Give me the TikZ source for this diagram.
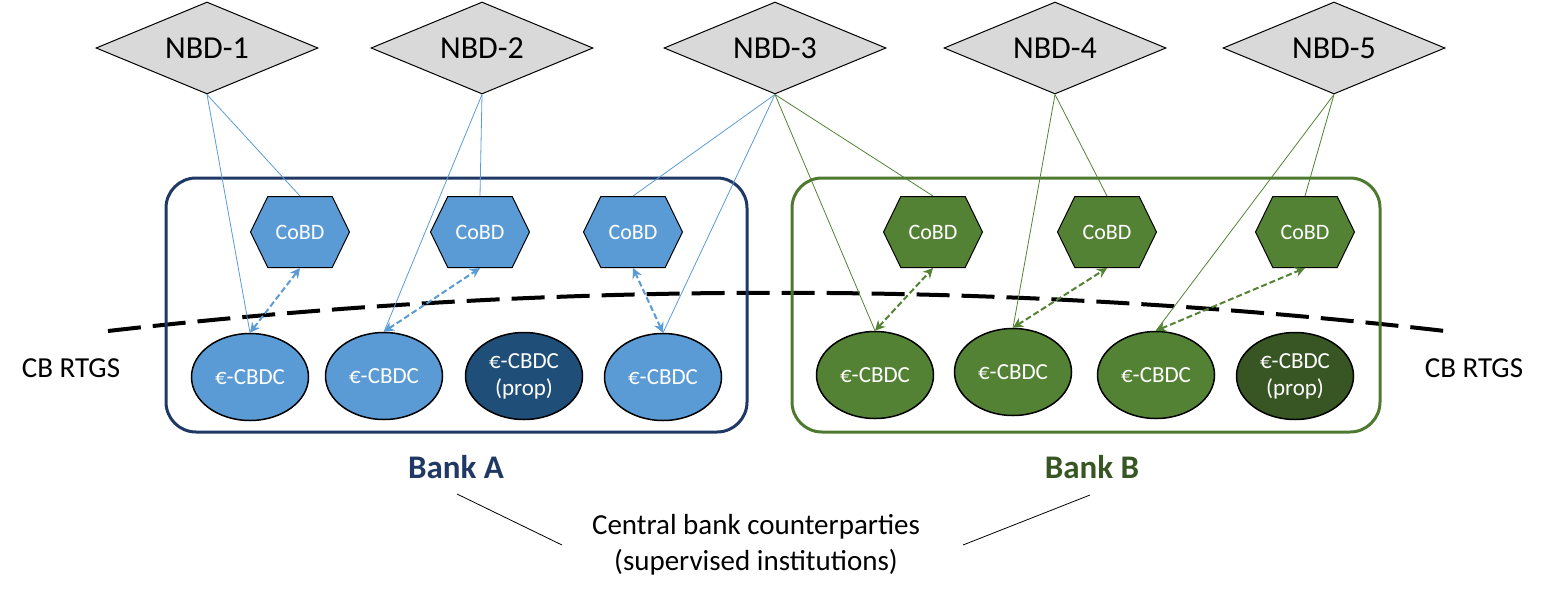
\documentclass[tikz,border=0pt]{standalone}
\usepackage{fontspec}
\setmainfont{Carlito}
\usetikzlibrary{shapes.geometric,shapes.symbols,arrows.meta}
\definecolor{bfill}{HTML}{5B9BD5}
\definecolor{bdark}{HTML}{1F4E79}
\definecolor{bline}{HTML}{203864}
\definecolor{gfill}{HTML}{548235}
\definecolor{gdark}{HTML}{375623}
\definecolor{gline}{HTML}{4E7A30}
\definecolor{nbdgray}{HTML}{D9D9D9}
\tikzset{
  nbd/.style={diamond, aspect=2.4, minimum width=222, minimum height=92, inner sep=0, draw=black, line width=1, fill=nbdgray, font=\fontsize{32}{36}\selectfont},
  hexbox/.style={signal, signal to=east and west, signal pointer angle=128, minimum width=99, minimum height=71, inner sep=0, draw=black, line width=1, text=white, font=\fontsize{22}{26}\selectfont},
  cbdc/.style={ellipse, minimum width=117, minimum height=87, inner sep=0, draw=black, line width=1.5, text=white, align=center, font=\fontsize{23}{27}\selectfont},
  bankbox/.style={rectangle, rounded corners=30, line width=3, minimum width=581, minimum height=254},
  thinb/.style={bfill, line width=0.8},
  thing/.style={gfill, line width=0.8},
  dblarrow/.style={line width=2, dash pattern=on 6 off 3, {Stealth[length=10,width=10]}-{Stealth[length=10,width=10]}},
  banklabel/.style={font=\fontsize{33}{38}\selectfont\bfseries},
  plainlabel/.style={font=\fontsize{29}{36}\selectfont, align=center}
}
\begin{document}
\begin{tikzpicture}[x=1pt,y=-1pt]
\useasboundingbox (0,0) rectangle (1552,600);
% dashed boundary
\coordinate (dl) at (108,331);
\coordinate (dr) at (1445,331);
\draw[line width=4, dash pattern=on 33 off 12] (dl) .. controls (553,280) and (1000,280) .. (dr);
% bank boxes
\node[bankbox, draw=bline] (boxA) at (456.5,305) {};
\node[bankbox, draw=gline, minimum width=588] (boxB) at (1086,305) {};
% NBDs
\node[nbd] (n1) at (207,48) {NBD-1};
\node[nbd] (n2) at (482,48) {NBD-2};
\node[nbd] (n3) at (775,48) {NBD-3};
\node[nbd] (n4) at (1055,48) {NBD-4};
\node[nbd] (n5) at (1334,48) {NBD-5};
% CoBD hexagons
\node[hexbox, fill=bfill] (ha1) at (300,232) {CoBD};
\node[hexbox, fill=bfill] (ha2) at (480,232) {CoBD};
\node[hexbox, fill=bfill] (ha3) at (633,232) {CoBD};
\node[hexbox, fill=gfill] (hb1) at (933,232) {CoBD};
\node[hexbox, fill=gfill] (hb2) at (1107,232) {CoBD};
\node[hexbox, fill=gfill] (hb3) at (1305,232) {CoBD};
% CBDC ellipses
\node[cbdc, fill=bfill] (ea1) at (250,377) {€-CBDC};
\node[cbdc, fill=bfill] (ea2) at (384,376) {€-CBDC};
\node[cbdc, fill=bdark] (ea3) at (524,376) {€-CBDC\\(prop)};
\node[cbdc, fill=bfill] (ea4) at (663,377) {€-CBDC};
\node[cbdc, fill=gfill] (eb1) at (875,375) {€-CBDC};
\node[cbdc, fill=gfill] (eb2) at (1013,372) {€-CBDC};
\node[cbdc, fill=gfill] (eb3) at (1156,375) {€-CBDC};
\node[cbdc, fill=gdark] (eb4) at (1295,376) {€-CBDC\\(prop)};
% thin connectors
\draw[thinb] (n1.south) -- (ha1.north);
\draw[thinb] (n1.south) -- (ea1.north);
\draw[thinb] (n2.south) -- (ha2.north);
\draw[thinb] (n2.south) -- (ea2.north);
\draw[thinb] (n3.south) -- (ha3.north);
\draw[thinb] (n3.south) -- (ea4.north);
\draw[thing] (n3.south) -- (hb1.north);
\draw[thing] (n3.south) -- (eb1.north);
\draw[thing] (n4.south) -- (hb2.north);
\draw[thing] (n4.south) -- (eb2.north);
\draw[thing] (n5.south) -- (hb3.north);
\draw[thing] (n5.south) -- (eb3.north);
% dashed double arrows
\draw[dblarrow, bfill] (ea1.north) -- (ha1.south);
\draw[dblarrow, bfill] (ea2.north) -- (ha2.south);
\draw[dblarrow, bfill] (ea4.north) -- (ha3.south);
\draw[dblarrow, gfill] (eb1.north) -- (hb1.south);
\draw[dblarrow, gfill] (eb2.north) -- (hb2.south);
\draw[dblarrow, gfill] (eb3.north) -- (hb3.south);
% labels
\node[plainlabel] (rtgsL) at (71,368) {CB RTGS};
\node[plainlabel] (rtgsR) at (1474,368) {CB RTGS};
\node[banklabel, text=bline] (bankA) at (456,467) {Bank A};
\node[banklabel, text=gdark] (bankB) at (1092,467) {Bank B};
\node[plainlabel] (cbc) at (756,545) {Central bank counterparties\\(supervised institutions)};
\coordinate (la1) at (457,494);
\coordinate (la2) at (562,545);
\coordinate (lb1) at (963,545);
\coordinate (lb2) at (1090,495);
\draw[line width=0.8] (la1) -- (la2);
\draw[line width=0.8] (lb1) -- (lb2);
\end{tikzpicture}
\end{document}
